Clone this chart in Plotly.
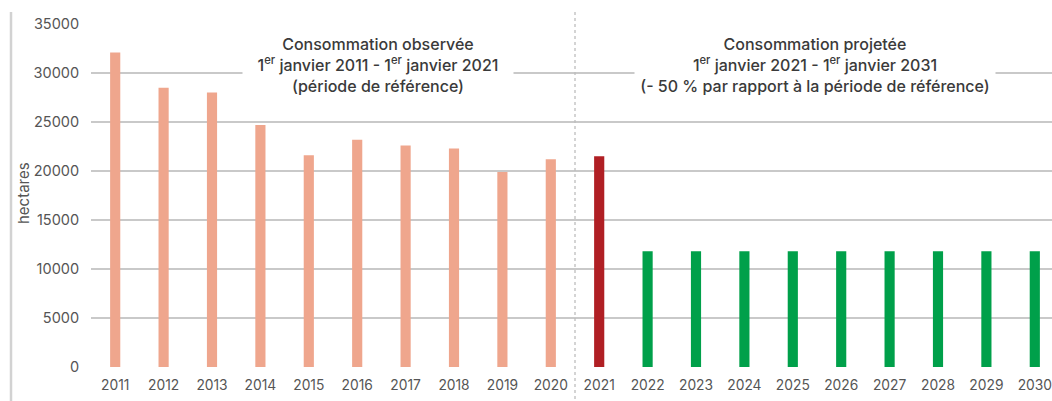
import plotly.graph_objects as go

years = [str(y) for y in range(2011, 2031)]
values = [32100, 28500, 28000, 24700, 21600, 23200, 22600, 22300, 19900, 21200,
          21500, 11800, 11800, 11800, 11800, 11800, 11800, 11800, 11800, 11800]
period = ["obs"] * 10 + ["ref"] + ["proj"] * 9
palette = {"obs": "#EFA68D", "ref": "#B01F24", "proj": "#00A04A"}
colors = [palette[p] for p in period]
y_ticks = [0, 5000, 10000, 15000, 20000, 25000, 30000, 35000]

FONT = "Inter"
FIG_W, FIG_H = 1052, 401
L, T, B_PIX = 91, 24, 367
W_PLOT, H_PLOT = FIG_W - L, B_PIX - T

def px(xs):
    return (xs - L) / W_PLOT

def py(ys):
    return (B_PIX - ys) / H_PLOT

fig = go.Figure()
fig.add_trace(go.Bar(x=years, y=values, marker=dict(color=colors, line=dict(width=0)),
                     width=0.21, showlegend=False))

fig.update_layout(
    width=FIG_W, height=FIG_H,
    margin=dict(l=L, r=0, t=T, b=FIG_H - B_PIX, autoexpand=False),
    paper_bgcolor="white", plot_bgcolor="white",
    font=dict(family=FONT, size=14, color="#555555"),
    xaxis=dict(type="category", range=[-0.5, -0.5 + W_PLOT / 48.4], showgrid=False,
               showline=False, zeroline=False, ticks="outside", ticklen=5,
               tickcolor="rgba(0,0,0,0)", automargin=False,
               tickfont=dict(family=FONT, size=13.8, color="#555555")),
    yaxis=dict(range=[0, 35000], tickvals=y_ticks, ticktext=[str(v) for v in y_ticks],
               showgrid=True, gridcolor="#c9c9c9", gridwidth=1.6, zeroline=False,
               showline=False, ticks="outside", ticklen=8, tickcolor="rgba(0,0,0,0)",
               automargin=False,
               tickfont=dict(family=FONT, size=14.5, color="#555555")),
)

# y title
fig.add_annotation(text="hectares", xref="paper", yref="paper", x=px(23), y=py(193),
                   textangle=-90, showarrow=False, font=dict(family=FONT, size=15, color="#555555"),
                   xanchor="center", yanchor="middle")

# left frame line
fig.add_shape(type="line", xref="paper", yref="paper",
              x0=px(11), x1=px(11), y0=py(405), y1=py(12),
              line=dict(color="#d2d2d2", width=2.5))
# dotted separator between observed and projected periods
fig.add_shape(type="line", xref="x", yref="paper", x0=9.5, x1=9.5,
              y0=py(405), y1=py(10),
              line=dict(color="#bdbdbd", width=1.3, dash="dot"))

fig.add_annotation(
    text="Consommation observée<br>1<sup>er</sup> janvier 2011 - 1<sup>er</sup> janvier 2021<br>(période de référence)",
    xref="paper", yref="paper", x=px(377.5), y=py(65), xanchor="center", yanchor="middle",
    showarrow=False, align="center", bgcolor="white", width=268, borderpad=1,
    font=dict(family=FONT, size=16, color="#3a3a3a", weight=500))
fig.add_annotation(
    text="Consommation projetée<br>1<sup>er</sup> janvier 2021 - 1<sup>er</sup> janvier 2031<br>(- 50 % par rapport à la période de référence)",
    xref="paper", yref="paper", x=px(814.5), y=py(65), xanchor="center", yanchor="middle",
    showarrow=False, align="center", bgcolor="white", width=358, borderpad=1,
    font=dict(family=FONT, size=16, color="#3a3a3a", weight=500))

fig.write_html("out.html", config={"displayModeBar": False},
               post_script="document.body.style.margin='0';document.body.style.overflow='hidden';")
